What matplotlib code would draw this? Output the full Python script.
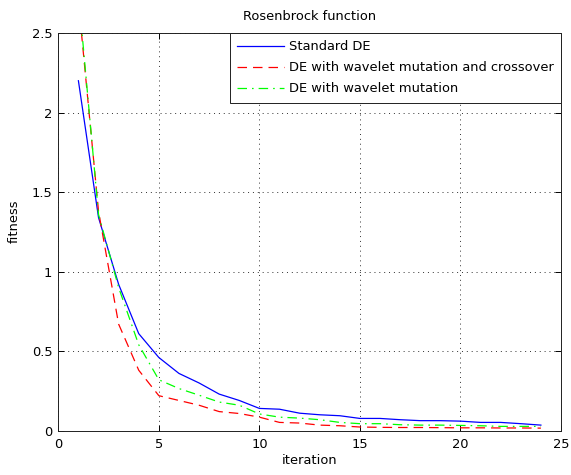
import matplotlib
matplotlib.use("Agg")
import matplotlib.pyplot as plt

plt.rcParams['font.family'] = ['DejaVu Sans']

iterations = list(range(1, 25))
standard_de = [2.2, 1.34, 0.92, 0.61, 0.46, 0.36, 0.30, 0.23, 0.19, 0.14, 0.135, 0.11,
               0.10, 0.094, 0.077, 0.077, 0.069, 0.063, 0.063, 0.06, 0.052, 0.052, 0.044, 0.035]
de_wavelet_cross = [2.7, 1.38, 0.67, 0.38, 0.22, 0.19, 0.16, 0.12, 0.108, 0.085, 0.052, 0.048,
                    0.035, 0.031, 0.023, 0.021, 0.02, 0.02, 0.019, 0.018, 0.018, 0.017, 0.017, 0.016]
de_wavelet = [2.75, 1.36, 0.90, 0.54, 0.32, 0.265, 0.223, 0.18, 0.16, 0.105, 0.085, 0.079,
              0.069, 0.052, 0.044, 0.044, 0.0375, 0.035, 0.035, 0.033, 0.031, 0.027, 0.027, 0.027]
labels = ["Standard DE", "DE with wavelet mutation and crossover", "DE with wavelet mutation"]

FS = 9.4
fig = plt.figure(figsize=(5.71, 4.75), dpi=100)
ax = fig.add_axes([0.1021, 0.0933, 0.8804, 0.8372])

ax.plot(iterations, standard_de, color=(0, 0, 1), lw=0.9, ls='-', label=labels[0])
ax.plot(iterations, de_wavelet_cross, color=(1, 0, 0), lw=0.9, ls=(0, (7.6, 4.8)), label=labels[1])
ax.plot(iterations, de_wavelet, color=(0, 1, 0), lw=0.9, ls=(0, (7.6, 4.0, 1.3, 4.0)), label=labels[2])

ax.set_xlim(0, 25)
ax.set_ylim(0, 2.5)
ax.set_xticks([0, 5, 10, 15, 20, 25])
ax.set_yticks([0, 0.5, 1, 1.5, 2, 2.5])
ax.set_yticklabels(['0', '0.5', '1', '1.5', '2', '2.5'])
ax.tick_params(direction='in', top=True, right=True, labelsize=FS, length=4, width=0.7)
ax.tick_params(axis='x', pad=5.5)
ax.tick_params(axis='y', pad=4.3)
for s in ax.spines.values():
    s.set_linewidth(0.7)
    s.set_color('#202020')
ax.grid(True, color='#303030', ls=(0, (1, 4)), lw=0.7)

ax.set_xlabel('iteration', fontsize=FS, labelpad=2)
ax.set_ylabel('fitness', fontsize=FS)
ax.yaxis.set_label_coords(-0.075, 0.527)
ax.set_title('Rosenbrock function', fontsize=FS, pad=9.4)

leg = ax.legend(loc='upper right', bbox_to_anchor=(1.0, 1.0), fontsize=FS, frameon=True,
                fancybox=False, edgecolor='#202020', framealpha=1, borderaxespad=0.0,
                handlelength=3.6, handletextpad=0.38, labelspacing=0.62, borderpad=0.55)
leg.get_frame().set_linewidth(0.7)

fig.savefig('out.png', dpi=100)
